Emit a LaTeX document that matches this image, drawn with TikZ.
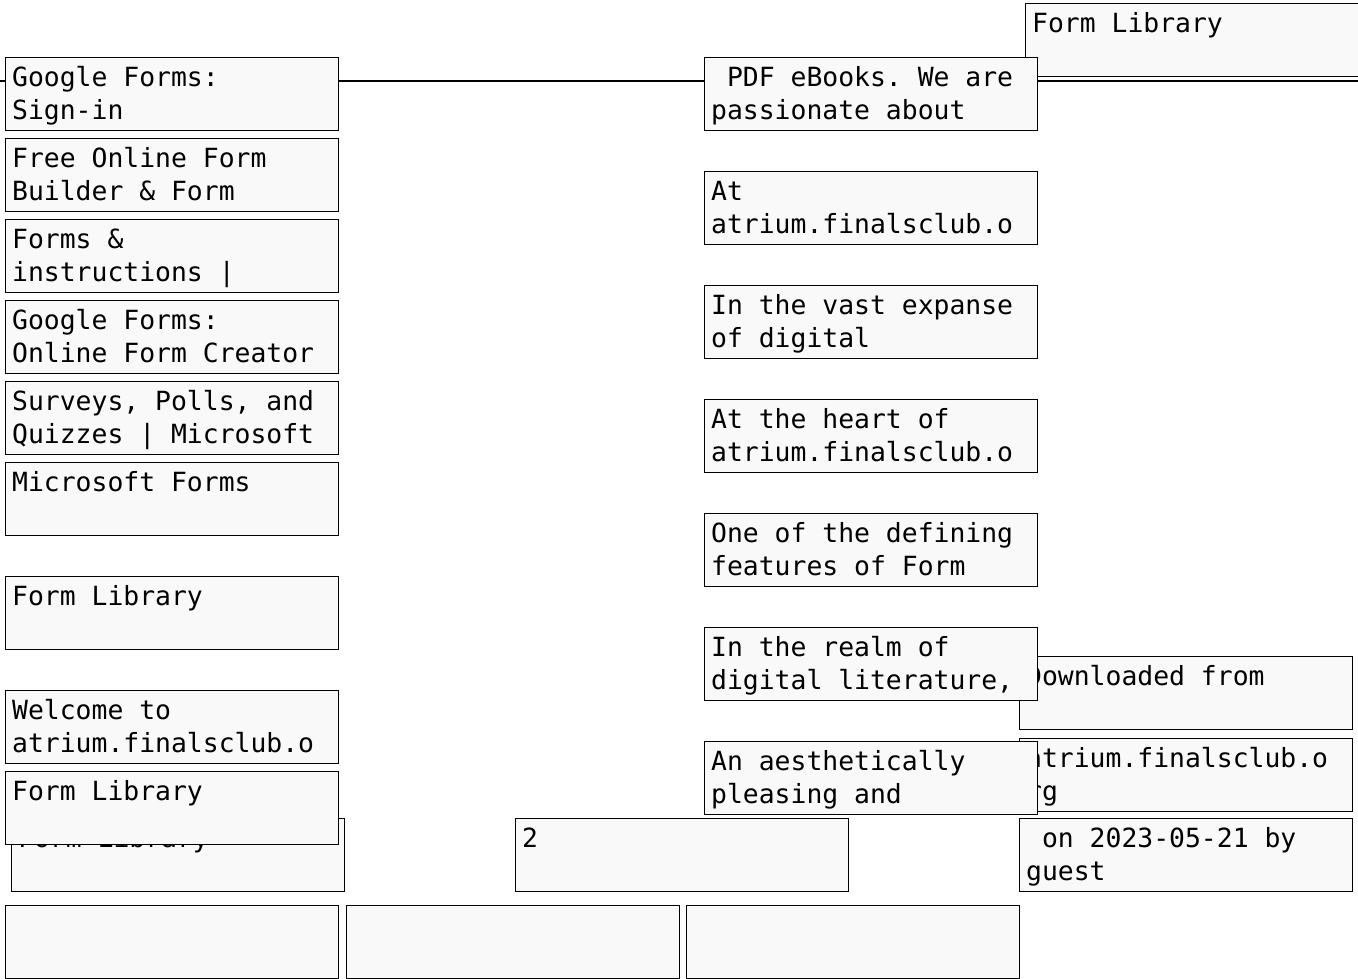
\documentclass[tikz,border=0pt]{standalone}
\usepackage{fontspec}
\newfontfamily\boxfont{DejaVu Sans Mono}
\definecolor{boxfill}{RGB}{249,249,249}
\newcommand\monospace{\spaceskip=\fontcharwd\font 120\relax\xspaceskip=\spaceskip}

\begin{document}
\begin{tikzpicture}[
    x=1pt, y=-1pt,
    every node/.style={font=\boxfont\fontsize{26.4}{33}\selectfont},
    fbox/.style={draw=black, fill=boxfill, line width=1.3pt, anchor=north west,
      inner xsep=6.5pt, inner ysep=0pt, text width=320pt, align=left,
      text height=29pt, text depth=44pt, execute at begin node=\monospace},
    link/.style={line width=2pt}]
    \useasboundingbox (0,0) rectangle (1358,979);
    % boxes lying underneath
    \node[fbox] (flibtop) at (1025,3) {Form Library};
    \node[fbox] (downl) at (1019,656) {Downloaded from};
    \node[fbox] (atrium) at (1019,738) {atrium.finalsclub.o\\rg};
    \node[fbox] (guest) at (1019,818) {\ on 2023-05-21 by\\guest};
    \node[fbox] (two) at (515,818) {2};
    \node[fbox] (blankA) at (5,905) {};
    \node[fbox] (blankB) at (346,905) {};
    \node[fbox] (blankC) at (686,905) {};
    \node[fbox] (flibB) at (11,818) {Form Library};
    % left column
    \node[fbox] (gsign) at (5,57) {Google Forms:\\Sign-in};
    \node[fbox] (fbuild) at (5,138) {Free Online Form\\Builder \& Form};
    \node[fbox] (finst) at (5,219) {Forms \&\\instructions |};
    \node[fbox] (gcreate) at (5,300) {Google Forms:\\Online Form Creator};
    \node[fbox] (surveys) at (5,381) {Surveys, Polls, and\\Quizzes | Microsoft};
    \node[fbox] (msforms) at (5,462) {Microsoft Forms};
    \node[fbox] (flib) at (5,576) {Form Library};
    \node[fbox] (welcome) at (5,690) {Welcome to\\atrium.finalsclub.o};
    \node[fbox] (flibA) at (5,771) {Form Library};
    % middle column
    \node[fbox] (pdf) at (704,57) {\ PDF eBooks. We are\\passionate about};
    \node[fbox] (atA) at (704,171) {At\\atrium.finalsclub.o};
    \node[fbox] (vast) at (704,285) {In the vast expanse\\of digital};
    \node[fbox] (heart) at (704,399) {At the heart of\\atrium.finalsclub.o};
    \node[fbox] (defining) at (704,513) {One of the defining\\features of Form};
    \node[fbox] (realm) at (704,627) {In the realm of\\digital literature,};
    \node[fbox] (aesth) at (704,741) {An aesthetically\\pleasing and};
    % connectors
    \coordinate (lft) at (0,81.5);
    \coordinate (rgt) at (1358,81);
    \draw[link] (lft) -- (lft -| gsign.west);
    \draw[link] (lft -| gsign.east) -- (lft -| pdf.west);
    \draw[link] (rgt -| pdf.east) -- (rgt);
\end{tikzpicture}
\end{document}
